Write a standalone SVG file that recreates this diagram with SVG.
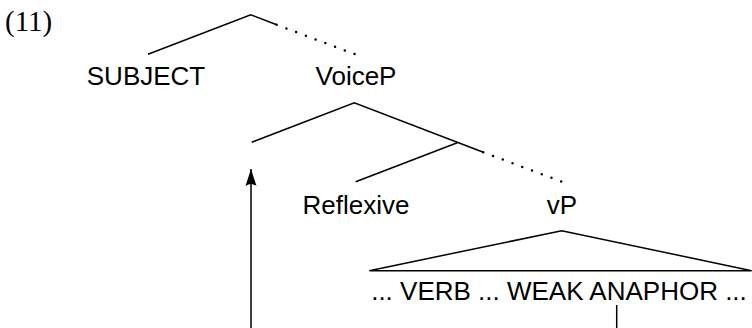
<svg xmlns="http://www.w3.org/2000/svg" width="752" height="328" viewBox="0 0 752 328">
<style>
.t{font-family:"Liberation Sans",Arial,Helvetica,sans-serif;font-size:26px;fill:#000;text-anchor:middle}
.n{font-family:"Liberation Serif","Times New Roman",serif;font-size:29px;fill:#000}
.s{stroke:#000;stroke-width:1.5;fill:none}
.d{stroke:#000;stroke-width:2.5;fill:none;stroke-linecap:round;stroke-dasharray:0 10.4}
</style>
<defs>
<marker id="ah" viewBox="0 0 18 12" refX="17" refY="6" markerWidth="18" markerHeight="12" markerUnits="userSpaceOnUse" orient="auto">
<path d="M17,6 L0,0.5 Q4,6 0,11.5 Z" fill="#000"/>
</marker>
</defs>
<rect width="752" height="328" fill="#fff"/>
<g id="label"><text class="n" x="5" y="31">(11)</text></g>
<g id="connectors">
<path class="s" d="M148,54.3 L250.7,14.7 L276.7,24.7"/>
<path class="d" d="M276.7,24.7 L355,54.3"/>
<path class="s" d="M251.7,142.3 L354.3,102.7 L483.3,152.3"/>
<path class="s" d="M457.3,142.7 L355.7,181.7"/>
<path class="d" d="M483.3,152.3 L561.7,181.7"/>
<path class="s" d="M369.3,270.7 L561.7,230.7 L751.7,270.7 Z"/>
<path class="s" d="M616.7,305 L616.7,328"/>
<path class="s" d="M251,328 L251,169" marker-end="url(#ah)"/>
</g>
<g id="subject"><text class="t" x="146" y="85">SUBJECT</text></g>
<g id="voicep"><text class="t" x="356" y="85">VoiceP</text></g>
<g id="reflexive"><text class="t" x="356" y="214">Reflexive</text></g>
<g id="vp"><text class="t" x="562" y="214">vP</text></g>
<g id="vp-content"><text class="t" x="559" y="300">... VERB ... WEAK ANAPHOR ...</text></g>
</svg>
